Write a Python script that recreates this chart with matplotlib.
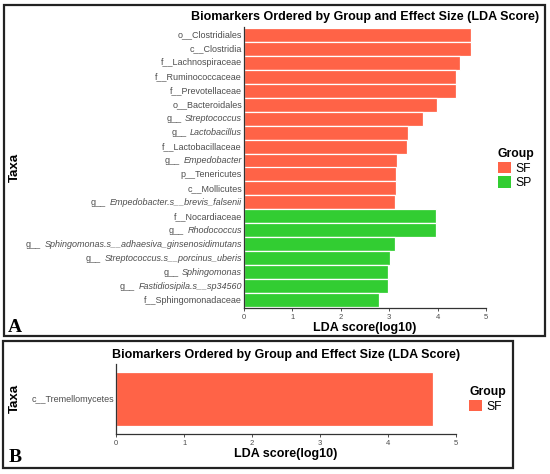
import matplotlib
matplotlib.use("Agg")
import matplotlib.pyplot as plt
from matplotlib.patches import Rectangle, Patch
from matplotlib.transforms import offset_copy

plt.rcParams['font.family'] = ['Liberation Sans', 'DejaVu Sans']

# ---- data panel A (top to bottom); (prefix, name, italic) ----
prefix_a = ["o__", "c__", "f__", "f__", "f__", "o__", "g__", "g__", "f__", "g__",
            "p__", "c__", "g__", "f__", "g__", "g__", "g__", "g__", "g__", "f__"]
names_a = ["Clostridiales", "Clostridia", "Lachnospiraceae", "Ruminococcaceae",
           "Prevotellaceae", "Bacteroidales", "Streptococcus", "Lactobacillus",
           "Lactobacillaceae", "Empedobacter", "Tenericutes", "Mollicutes",
           "Empedobacter.s__brevis_falsenii", "Nocardiaceae", "Rhodococcus",
           "Sphingomonas.s__adhaesiva_ginsenosidimutans", "Streptococcus.s__porcinus_uberis",
           "Sphingomonas", "Fastidiosipila.s__sp34560", "Sphingomonadaceae"]
italic_a = [False, False, False, False, False, False, True, True, False, True,
            False, False, True, False, True, True, True, True, True, False]
lda_a = [4.69, 4.69, 4.47, 4.39, 4.38, 3.99, 3.69, 3.39, 3.37, 3.17,
         3.15, 3.15, 3.13, 3.97, 3.97, 3.13, 3.02, 2.98, 2.98, 2.78]
group_a = ["SF"] * 13 + ["SP"] * 7

# ---- data panel B ----
prefix_b = ["c__"]
names_b = ["Tremellomycetes"]
italic_b = [False]
lda_b = [4.66]
group_b = ["SF"]

xticks = [0, 1, 2, 3, 4, 5]
colors = {"SF": "#FF6347", "SP": "#32CD32"}
title = "Biomarkers Ordered by Group and Effect Size (LDA Score)"

W, H = 550, 474
fig = plt.figure(figsize=(W / 100, H / 100), dpi=100)
LABEL_FS = 6.5
LABEL_COLOR = "#4d4d4d"

def fx(p):
    return p / W

def fy(p):
    return 1 - p / H

def axes_px(l, t, r, b):
    return fig.add_axes([fx(l), fy(b), fx(r) - fx(l), (b - t) / H])

def style_ax(ax):
    for s in ["top", "right"]:
        ax.spines[s].set_visible(False)
    for s in ["left", "bottom"]:
        ax.spines[s].set_color("#333333")
        ax.spines[s].set_linewidth(0.9)
    ax.set_xlim(0, 5)
    ax.set_xticks(xticks)
    ax.tick_params(axis="x", length=2.5, width=0.6, colors="#333333",
                   labelsize=5.5, labelcolor="#4d4d4d", pad=1.5)
    ax.tick_params(axis="y", length=0, pad=1.5, labelsize=LABEL_FS, labelcolor=LABEL_COLOR)
    ax.set_xlabel("LDA score(log10)", fontsize=9, fontweight="bold", labelpad=1)

def draw_labels(ax, ypos, prefixes, names, italics):
    ax.set_yticks(ypos)
    ax.set_yticklabels([""] * len(ypos))
    trans = offset_copy(ax.get_yaxis_transform(), fig=fig, x=-1.5, y=0, units="points")
    for y, p, n, it in zip(ypos, prefixes, names, italics):
        if it:
            t = ax.text(0, y, n, transform=trans, ha="right", va="center",
                        fontsize=LABEL_FS, style="italic", color=LABEL_COLOR)
            ax.annotate(p, xy=(0, 0.5), xycoords=t, xytext=(-2.6, 0),
                        textcoords="offset points", ha="right", va="center",
                        fontsize=LABEL_FS, color=LABEL_COLOR)
        else:
            ax.text(0, y, p + n, transform=trans, ha="right", va="center",
                    fontsize=LABEL_FS, color=LABEL_COLOR)

legend_kw = dict(frameon=False, fontsize=8.7,
                 title_fontproperties={"weight": "bold", "size": 8.7},
                 handlelength=1.1, handleheight=1.05, handletextpad=0.35,
                 labelspacing=0.15, borderaxespad=0, borderpad=0, alignment="left")

# ---- panel A ----
axA = axes_px(244, 27, 486, 308)
ypos = list(range(len(names_a)))[::-1]
axA.barh(ypos, lda_a, height=1.0, color=[colors[g] for g in group_a],
         edgecolor="white", linewidth=0.9)
axA.set_ylim(-0.55, len(names_a) - 0.45)
style_ax(axA)
draw_labels(axA, ypos, prefix_a, names_a, italic_a)
axA.set_title(title, fontsize=9, fontweight="bold", pad=5)
handlesA = [Patch(facecolor=colors["SF"], label="SF"), Patch(facecolor=colors["SP"], label="SP")]
axA.legend(handles=handlesA, title="Group", loc="upper left",
           bbox_to_anchor=((498 - 244) / (486 - 244), (308 - 148) / (308 - 27)), **legend_kw)

# ---- panel B ----
axB = axes_px(116.3, 364, 455.7, 434)
axB.barh([0], lda_b, height=1.0, color=[colors[g] for g in group_b],
         edgecolor="white", linewidth=0.9)
axB.set_ylim(-0.66, 0.66)
style_ax(axB)
draw_labels(axB, [0], prefix_b, names_b, italic_b)
axB.set_title(title, fontsize=9, fontweight="bold", pad=4)
handlesB = [Patch(facecolor=colors["SF"], label="SF")]
axB.legend(handles=handlesB, title="Group", loc="upper left",
           bbox_to_anchor=((469 - 116.3) / (455.7 - 116.3), (434 - 386) / 70), **legend_kw)

# ---- y labels ----
fig.text(fx(15), fy(167), "Taxa", rotation=90, fontsize=9.5, fontweight="bold",
         ha="center", va="center")
fig.text(fx(15), fy(398), "Taxa", rotation=90, fontsize=9.5, fontweight="bold",
         ha="center", va="center")

# ---- panel letters ----
fig.text(fx(8), fy(332), "A", fontsize=14, fontweight="bold", family="Liberation Serif",
         ha="left", va="baseline")
fig.text(fx(9), fy(462), "B", fontsize=14, fontweight="bold", family="Liberation Serif",
         ha="left", va="baseline")

# ---- panel frames ----
for (l, t, r, b) in [(4, 5, 545, 336), (3, 341, 513, 468)]:
    fig.patches.append(Rectangle((fx(l), fy(b)), fx(r) - fx(l), (b - t) / H,
                                 transform=fig.transFigure, fill=False,
                                 edgecolor="#222222", linewidth=1.6))

fig.savefig("out.png", dpi=100)
